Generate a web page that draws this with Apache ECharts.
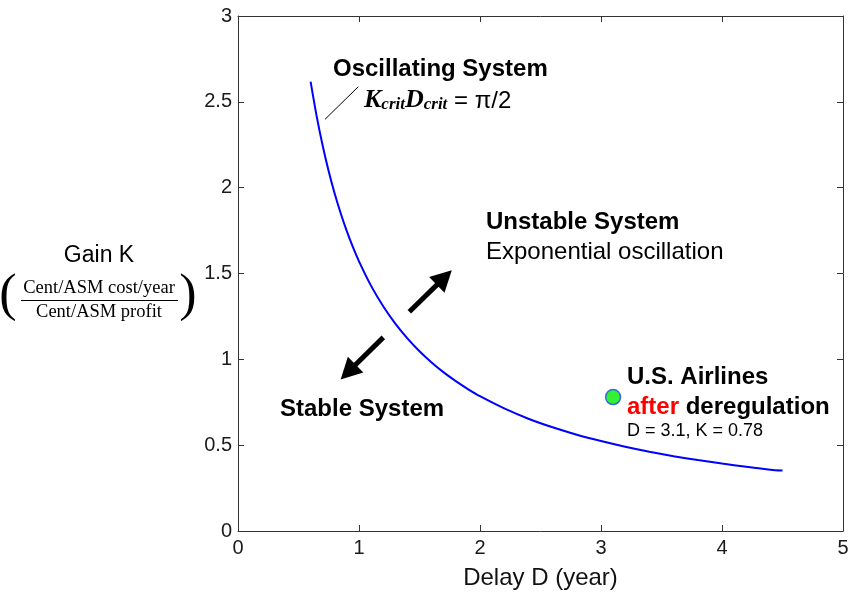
<!DOCTYPE html>
<html>
<head>
<meta charset="utf-8">
<script src="https://cdn.jsdelivr.net/npm/echarts@6/dist/echarts.min.js"></script>
<style>
html,body{margin:0;padding:0;background:#fff;}
#chart{width:849px;height:592px;}
</style>
</head>
<body>
<div id="chart"></div>
<script>
// Critical curve K_crit * D_crit = pi/2
var delayD = [0.6, 0.65, 0.7, 0.75, 0.8, 0.85, 0.9, 0.95, 1.0, 1.1, 1.2, 1.3, 1.4, 1.5, 1.6, 1.7, 1.8, 1.9, 2.0, 2.2, 2.4, 2.6, 2.8, 3.0, 3.2, 3.4, 3.6, 3.8, 4.0, 4.2, 4.4, 4.5];
var gainK  = [2.618, 2.417, 2.244, 2.094, 1.963, 1.848, 1.745, 1.653, 1.571, 1.428, 1.309, 1.208, 1.122, 1.047, 0.982, 0.924, 0.873, 0.827, 0.785, 0.714, 0.654, 0.604, 0.561, 0.524, 0.491, 0.462, 0.436, 0.413, 0.393, 0.374, 0.357, 0.352];
// U.S. airlines after deregulation
var airlinesPoint = [3.1, 0.78];
// annotation lines (data coordinates)
var arrowUnstable = [[1.416, 1.277], [1.705, 1.476]];
var arrowStable   = [[1.201, 1.128], [0.910, 0.926]];
var pointerLine   = [[0.719, 2.398], [0.994, 2.588]];
var xTicks = ['0', '1', '2', '3', '4', '5'];
var yTicks = ['0', '0.5', '1', '1.5', '2', '2.5', '3'];

var curve = delayD.map(function (d, i) { return [d, gainK[i]]; });

var SANS = 'Liberation Sans, Arial, Helvetica, sans-serif';
var SERIF = 'Liberation Serif, Times New Roman, serif';
var AX = '#333';
var LAB = '#1a1a1a';

function axisBase(extra) {
  var a = {
    axisLine: { show: true, onZero: false, lineStyle: { color: AX, width: 1 } },
    axisTick: { show: true, inside: true, length: 6, lineStyle: { color: AX } },
    splitLine: { show: false }
  };
  for (var k in extra) a[k] = extra[k];
  return a;
}

function txt(x, y, text, font, fill) {
  return { type: 'text', x: x, y: y, style: { text: text, font: font, fill: fill || '#000', verticalAlign: 'middle' } };
}

var chart = echarts.init(document.getElementById('chart'));
chart.setOption({
  animation: false,
  backgroundColor: '#fff',
  grid: { left: 238, right: 6, top: 16, bottom: 61, containLabel: false, outerBoundsMode: 'none' },
  xAxis: [
    axisBase({
      type: 'value', position: 'bottom', min: 0, max: 5, interval: 1,
      axisLabel: { fontSize: 20, color: LAB, fontFamily: SANS, margin: 7,
        formatter: function (v) { return xTicks[Math.round(v)]; } },
      name: 'Delay D (year)', nameLocation: 'middle', nameGap: 35,
      nameTextStyle: { fontSize: 24, color: '#111', fontFamily: SANS }
    }),
    axisBase({
      type: 'value', position: 'top', min: 0, max: 5, interval: 1,
      axisLabel: { show: false }
    })
  ],
  yAxis: [
    axisBase({
      type: 'value', position: 'left', min: 0, max: 3, interval: 0.5,
      axisLabel: { fontSize: 20, color: LAB, fontFamily: SANS, margin: 6,
        formatter: function (v) { return yTicks[Math.round(v * 2)]; } }
    }),
    axisBase({
      type: 'value', position: 'right', min: 0, max: 3, interval: 0.5,
      axisLabel: { show: false }
    })
  ],
  series: [
    {
      type: 'line', data: curve, smooth: 0.3, showSymbol: false,
      lineStyle: { color: '#0000ff', width: 2 }, z: 3
    },
    {
      type: 'scatter', data: [airlinesPoint], symbolSize: 15,
      itemStyle: { color: '#00ee00', borderColor: '#2244ff', borderWidth: 1.5 }, z: 4
    },
    {
      type: 'line', data: [], z: 2,
      markLine: {
        silent: true, animation: false,
        label: { show: false },
        emphasis: { disabled: true },
        data: [
          [ { coord: arrowUnstable[0], symbol: 'none', lineStyle: { color: '#000', width: 5, type: 'solid' } },
            { coord: arrowUnstable[1], symbol: 'triangle', symbolSize: [22, 21] } ],
          [ { coord: arrowStable[0], symbol: 'none', lineStyle: { color: '#000', width: 5, type: 'solid' } },
            { coord: arrowStable[1], symbol: 'triangle', symbolSize: [22, 21] } ],
          [ { coord: pointerLine[0], symbol: 'none', lineStyle: { color: '#000', width: 1, type: 'solid' } },
            { coord: pointerLine[1], symbol: 'none' } ]
        ]
      }
    }
  ],
  graphic: [
    txt(333, 69, 'Oscillating System', 'bold 24px ' + SANS),
    { type: 'text', x: 364, y: 99, style: {
        text: '{k|K}{s|crit}{k|D}{s|crit}{e| = π/2}',
        verticalAlign: 'middle',
        rich: {
          k: { fontFamily: SERIF, fontStyle: 'italic', fontWeight: 'bold', fontSize: 26, fill: '#000', lineHeight: 28, verticalAlign: 'bottom' },
          s: { fontFamily: SERIF, fontStyle: 'italic', fontWeight: 'bold', fontSize: 17, fill: '#000', lineHeight: 28, padding: [13, 0, 0, 0], verticalAlign: 'bottom' },
          e: { fontFamily: SANS, fontSize: 24, fill: '#000', lineHeight: 28, verticalAlign: 'bottom' }
        } } },
    txt(486, 222, 'Unstable System', 'bold 24px ' + SANS),
    txt(486, 252, 'Exponential oscillation', '24px ' + SANS),
    txt(280, 409, 'Stable System', 'bold 24px ' + SANS),
    txt(627, 377, 'U.S. Airlines', 'bold 24px ' + SANS),
    { type: 'text', x: 627, y: 407, style: {
        text: '{r|after}{b| deregulation}',
        verticalAlign: 'middle',
        rich: {
          r: { font: 'bold 24px ' + SANS, fill: '#ff0000' },
          b: { font: 'bold 24px ' + SANS, fill: '#000' }
        } } },
    txt(627, 431, 'D = 3.1, K = 0.78', '18px ' + SANS),
    // y axis title
    { type: 'text', x: 99, y: 256, style: { text: 'Gain K', font: '23px ' + SANS, fill: '#000', align: 'center', verticalAlign: 'middle' } },
    { type: 'text', x: 99, y: 288, style: { text: 'Cent/ASM cost/year', font: '18.5px ' + SERIF, fill: '#000', align: 'center', verticalAlign: 'middle' } },
    { type: 'line', shape: { x1: 21, y1: 300.5, x2: 178, y2: 300.5 }, style: { stroke: '#000', lineWidth: 1 } },
    { type: 'text', x: 99, y: 312, style: { text: 'Cent/ASM profit', font: '18.5px ' + SERIF, fill: '#000', align: 'center', verticalAlign: 'middle' } },
    { type: 'text', x: 8, y: 296, style: { text: '(', font: '52px ' + SERIF, fill: '#000', align: 'center', verticalAlign: 'middle' } },
    { type: 'text', x: 188, y: 296, style: { text: ')', font: '52px ' + SERIF, fill: '#000', align: 'center', verticalAlign: 'middle' } }
  ]
});
</script>
</body>
</html>
